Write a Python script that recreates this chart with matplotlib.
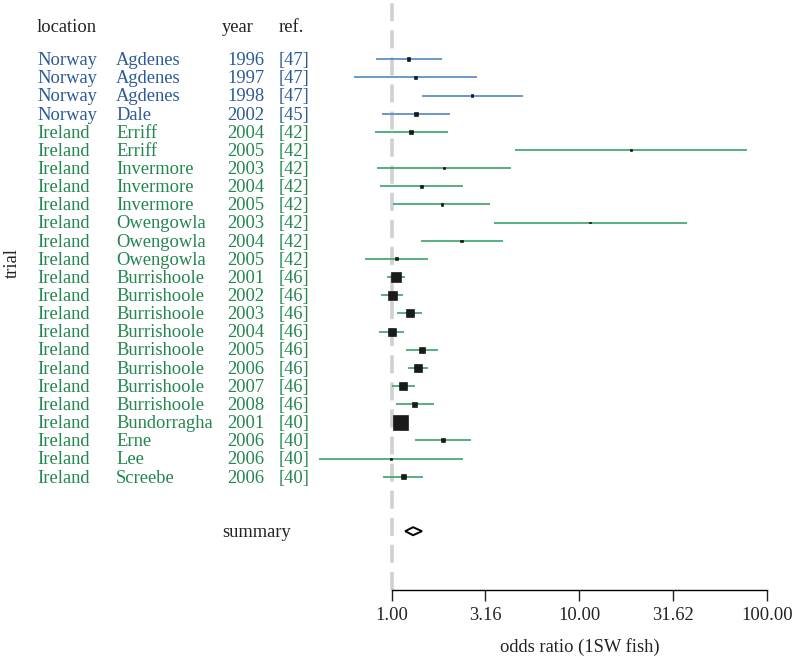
import numpy as np
import matplotlib
matplotlib.use('Agg')
import matplotlib.pyplot as plt
from matplotlib.transforms import blended_transform_factory
from matplotlib.patches import Polygon
from matplotlib.ticker import NullLocator, FixedLocator, FixedFormatter

# ---------------- data ----------------
countries = ['Norway'] * 4 + ['Ireland'] * 20
sites = ['Agdenes', 'Agdenes', 'Agdenes', 'Dale',
         'Erriff', 'Erriff', 'Invermore', 'Invermore', 'Invermore',
         'Owengowla', 'Owengowla', 'Owengowla',
         'Burrishoole', 'Burrishoole', 'Burrishoole', 'Burrishoole',
         'Burrishoole', 'Burrishoole', 'Burrishoole', 'Burrishoole',
         'Bundorragha', 'Erne', 'Lee', 'Screebe']
years = ['1996', '1997', '1998', '2002',
         '2004', '2005', '2003', '2004', '2005',
         '2003', '2004', '2005',
         '2001', '2002', '2003', '2004', '2005', '2006', '2007', '2008',
         '2001', '2006', '2006', '2006']
refs = ['[47]', '[47]', '[47]', '[45]',
        '[42]', '[42]', '[42]', '[42]', '[42]', '[42]', '[42]', '[42]',
        '[46]', '[46]', '[46]', '[46]', '[46]', '[46]', '[46]', '[46]',
        '[40]', '[40]', '[40]', '[40]']
odds = [1.23, 1.34, 2.68, 1.35,
        1.27, 18.8, 1.90, 1.44, 1.85,
        11.4, 2.36, 1.06,
        1.05, 1.01, 1.25, 1.00, 1.45, 1.38, 1.15, 1.33,
        1.12, 1.88, 0.99, 1.15]
lower = [0.82, 0.63, 1.45, 0.89,
         0.81, 4.52, 0.84, 0.87, 1.02,
         3.51, 1.43, 0.72,
         0.94, 0.88, 1.07, 0.86, 1.19, 1.22, 1.00, 1.05,
         1.03, 1.33, 0.41, 0.90]
upper = [1.86, 2.85, 4.99, 2.04,
         2.00, 78.2, 4.31, 2.40, 3.35,
         37.3, 3.92, 1.56,
         1.18, 1.15, 1.45, 1.16, 1.77, 1.57, 1.33, 1.69,
         1.21, 2.64, 2.40, 1.46]
weights = [14, 5, 7, 14,
           12, 2, 4, 9, 6,
           2, 6, 9,
           100, 86, 64, 64, 36, 69, 69, 25,
           225, 16, 4, 25]
summary_or, summary_lo, summary_hi = 1.30, 1.18, 1.45
tick_vals = [1.0, 3.16, 10.0, 31.62, 100.0]
tick_labels = ['1.00', '3.16', '10.00', '31.62', '100.00']

# ---------------- style ----------------
plt.rcParams['font.family'] = ['Liberation Serif', 'DejaVu Serif']
plt.rcParams['lines.scale_dashes'] = False
FS = 13.3
text_col = {'Norway': '#2c5a98', 'Ireland': '#22864f'}
line_col = {'Norway': '#5189c0', 'Ireland': '#3aa36b'}
dark = '#1a1a1a'

W, H = 793, 657
fig = plt.figure(figsize=(W / 100, H / 100), dpi=100)
ax = fig.add_axes([300 / W, 67 / H, 480 / W, 590 / H])
ax.set_xscale('log')
ax.set_xlim(10 ** -0.4885, 10 ** 2.0687)
row_top, row_step = 59.3, 18.15
ax.set_ylim(1 + (590 - row_top) / row_step, 1 - row_top / row_step)

n = len(odds)
rows = np.arange(1, n + 1)
summary_row = n + 3
toff = 1.3 / row_step  # small downward nudge of text to match ink centres

# reference line at OR = 1
ax.axvline(1.0, color='#d0d0d0', lw=2.6, linestyle=(0, (13, 6.5)), zorder=1)

# confidence intervals
for r, c, lo, hi in zip(rows, countries, lower, upper):
    ax.hlines(r, lo, hi, color=line_col[c], lw=1.2, zorder=2)

# boxes
w = np.array(weights, dtype=float)
side_px = 15.0 * np.sqrt(w / w.max())
side_pt = side_px * 0.72
ax.scatter(odds, rows, s=side_pt ** 2, marker='s', color=dark,
           edgecolors='black', linewidths=0.4, zorder=3)

# summary diamond
hh = 4.0 / row_step
diamond = Polygon([(summary_lo, summary_row), (summary_or, summary_row - hh),
                   (summary_hi, summary_row), (summary_or, summary_row + hh)],
                  closed=True, facecolor='white', edgecolor='black', lw=1.4,
                  zorder=3)
ax.add_patch(diamond)

# axes styling
for s in ['left', 'top', 'right']:
    ax.spines[s].set_visible(False)
ax.spines['bottom'].set_bounds(1, 100)
ax.spines['bottom'].set_linewidth(1.0)
ax.set_yticks([])
ax.xaxis.set_major_locator(FixedLocator(tick_vals))
ax.xaxis.set_major_formatter(FixedFormatter(tick_labels))
ax.xaxis.set_minor_locator(NullLocator())
ax.tick_params(axis='x', length=8, width=1.0, pad=4.5, labelsize=FS,
               colors='#222222')
ax.patch.set_alpha(0)

# text table
tr = blended_transform_factory(fig.transFigure, ax.transData)
header_row = 1 + (26.7 - row_top) / row_step + toff
ax.text(37 / W, header_row, 'location', transform=tr, fontsize=FS,
        color='#222222', va='center', ha='left')
ax.text(222 / W, header_row, 'year', transform=tr, fontsize=FS,
        color='#222222', va='center', ha='left')
ax.text(279 / W, header_row, 'ref.', transform=tr, fontsize=FS,
        color='#222222', va='center', ha='left')
for r, c, s, y, rf in zip(rows, countries, sites, years, refs):
    col = text_col[c]
    ax.text(37 / W, r + toff, c, transform=tr, fontsize=FS, color=col, va='center')
    ax.text(116 / W, r + toff, s, transform=tr, fontsize=FS, color=col, va='center')
    ax.text(227 / W, r + toff, y, transform=tr, fontsize=FS, color=col, va='center')
    ax.text(279 / W, r + toff, rf, transform=tr, fontsize=FS, color=col, va='center')
ax.text(222 / W, summary_row + toff, 'summary', transform=tr, fontsize=FS,
        color='#222222', va='center', ha='left')

# axis labels
trx = blended_transform_factory(ax.transData, fig.transFigure)
ax.text(10, 1 - 647 / H, 'odds ratio (1SW fish)', transform=trx, fontsize=FS,
        color='#222222', ha='center', va='center')
fig.text(12 / W, 1 - 263 / H, 'trial', rotation=90, fontsize=FS,
         color='#222222', ha='center', va='center')

fig.savefig('out.png', dpi=100)
